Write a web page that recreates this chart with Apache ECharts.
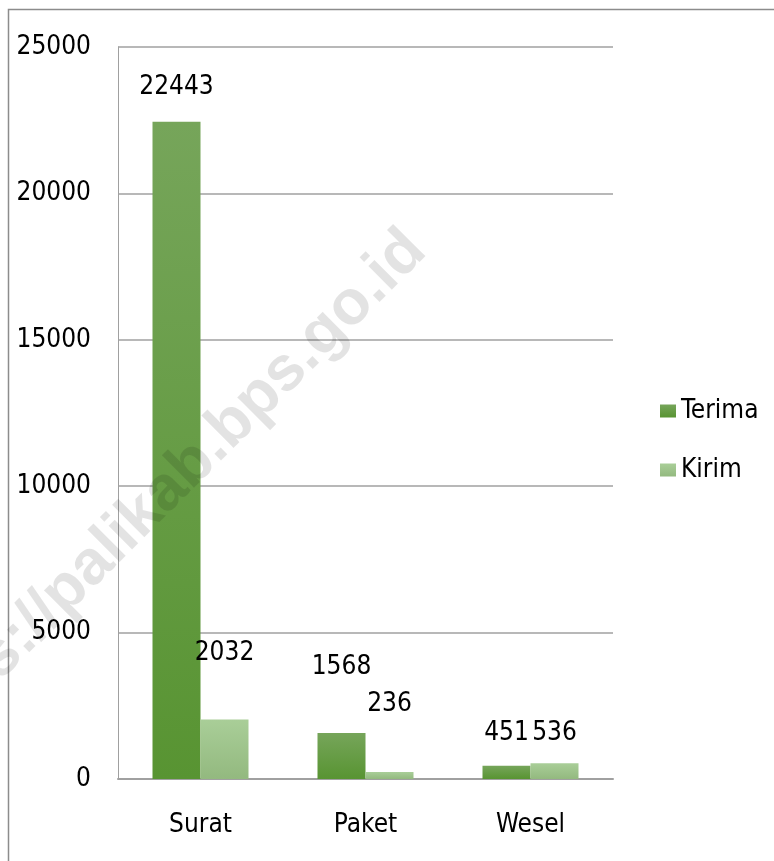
<!DOCTYPE html>
<html>
<head>
<meta charset="utf-8">
<script src="https://cdn.jsdelivr.net/npm/echarts@6/dist/echarts.min.js"></script>
<style>
  html, body { margin: 0; padding: 0; background: #fff; }
  #chart { width: 774px; height: 861px; }
</style>
</head>
<body>
<div id="chart"></div>
<script>
// data
const categories = ['Surat', 'Paket', 'Wesel'];
const terima = [22443, 1568, 451];
const kirim = [2032, 236, 536];
const yTicks = [0, 5000, 10000, 15000, 20000, 25000];

// labels sit at different heights above the bars in the original
const terimaLabelGap = [22, 53, 20];
const kirimLabelGap = [53, 55, 17];

const FONT = "'DejaVu Sans Condensed', 'Liberation Sans', sans-serif";

const chart = echarts.init(document.getElementById('chart'));

const grad = (top, bottom) => ({
  type: 'linear', x: 0, y: 0, x2: 0, y2: 1,
  colorStops: [
    { offset: 0, color: top },
    { offset: 1, color: bottom }
  ]
});

const withLabels = (values, gaps) => values.map((v, i) => ({
  value: v,
  label: { distance: gaps[i] }
}));

const labelStyle = {
  show: true,
  position: 'top',
  color: '#000',
  fontFamily: FONT,
  fontSize: 26
};

const option = {
  backgroundColor: '#fff',
  animation: false,
  grid: { left: 118, right: 161, top: 47, bottom: 82 },
  legend: {
    orient: 'vertical',
    left: 655,
    top: 393,
    icon: 'rect',
    itemWidth: 16,
    itemHeight: 13,
    itemGap: 33,
    textStyle: { fontFamily: FONT, fontSize: 26, color: '#000' },
    data: ['Terima', 'Kirim']
  },
  xAxis: {
    type: 'category',
    data: categories,
    axisTick: { show: false },
    axisLine: { lineStyle: { color: '#a0a0a0', width: 2 } },
    axisLabel: { color: '#000', fontFamily: FONT, fontSize: 26, margin: 33 }
  },
  yAxis: {
    type: 'value',
    min: yTicks[0],
    max: yTicks[yTicks.length - 1],
    interval: yTicks[1] - yTicks[0],
    axisLine: { show: true, lineStyle: { color: '#a0a0a0', width: 1 } },
    axisTick: { show: false },
    axisLabel: {
      color: '#000', fontFamily: FONT, fontSize: 26, margin: 27,
      formatter: v => String(v)
    },
    splitLine: { lineStyle: { color: '#a0a0a0', width: 1.5 } }
  },
  series: [
    {
      name: 'Terima',
      type: 'bar',
      barWidth: 48,
      barGap: '0%',
      itemStyle: { color: grad('#76a55a', '#589432') },
      label: labelStyle,
      data: withLabels(terima, terimaLabelGap)
    },
    {
      name: 'Kirim',
      type: 'bar',
      barWidth: 48,
      barGap: '0%',
      itemStyle: { color: grad('#a9ce98', '#93b97f') },
      label: labelStyle,
      data: withLabels(kirim, kirimLabelGap)
    }
  ],
  graphic: [
    {
      type: 'rect',
      silent: true,
      z: 100,
      shape: { x: 8.5, y: 9.5, width: 800, height: 900 },
      style: { fill: 'none', stroke: '#8c8c8c', lineWidth: 1.5 }
    },
    {
      // watermark laid over the chart
      type: 'text',
      silent: true,
      z: 100,
      x: 160,
      y: 497,
      rotation: Math.PI / 4,
      style: {
        text: 'https://palikab.bps.go.id',
        fill: 'rgba(0,0,0,0.11)',
        font: "bold 63px 'Liberation Sans', Arial, sans-serif",
        textAlign: 'center',
        textVerticalAlign: 'middle'
      }
    }
  ]
};

chart.setOption(option);
window.addEventListener('resize', () => chart.resize());
</script>
</body>
</html>
